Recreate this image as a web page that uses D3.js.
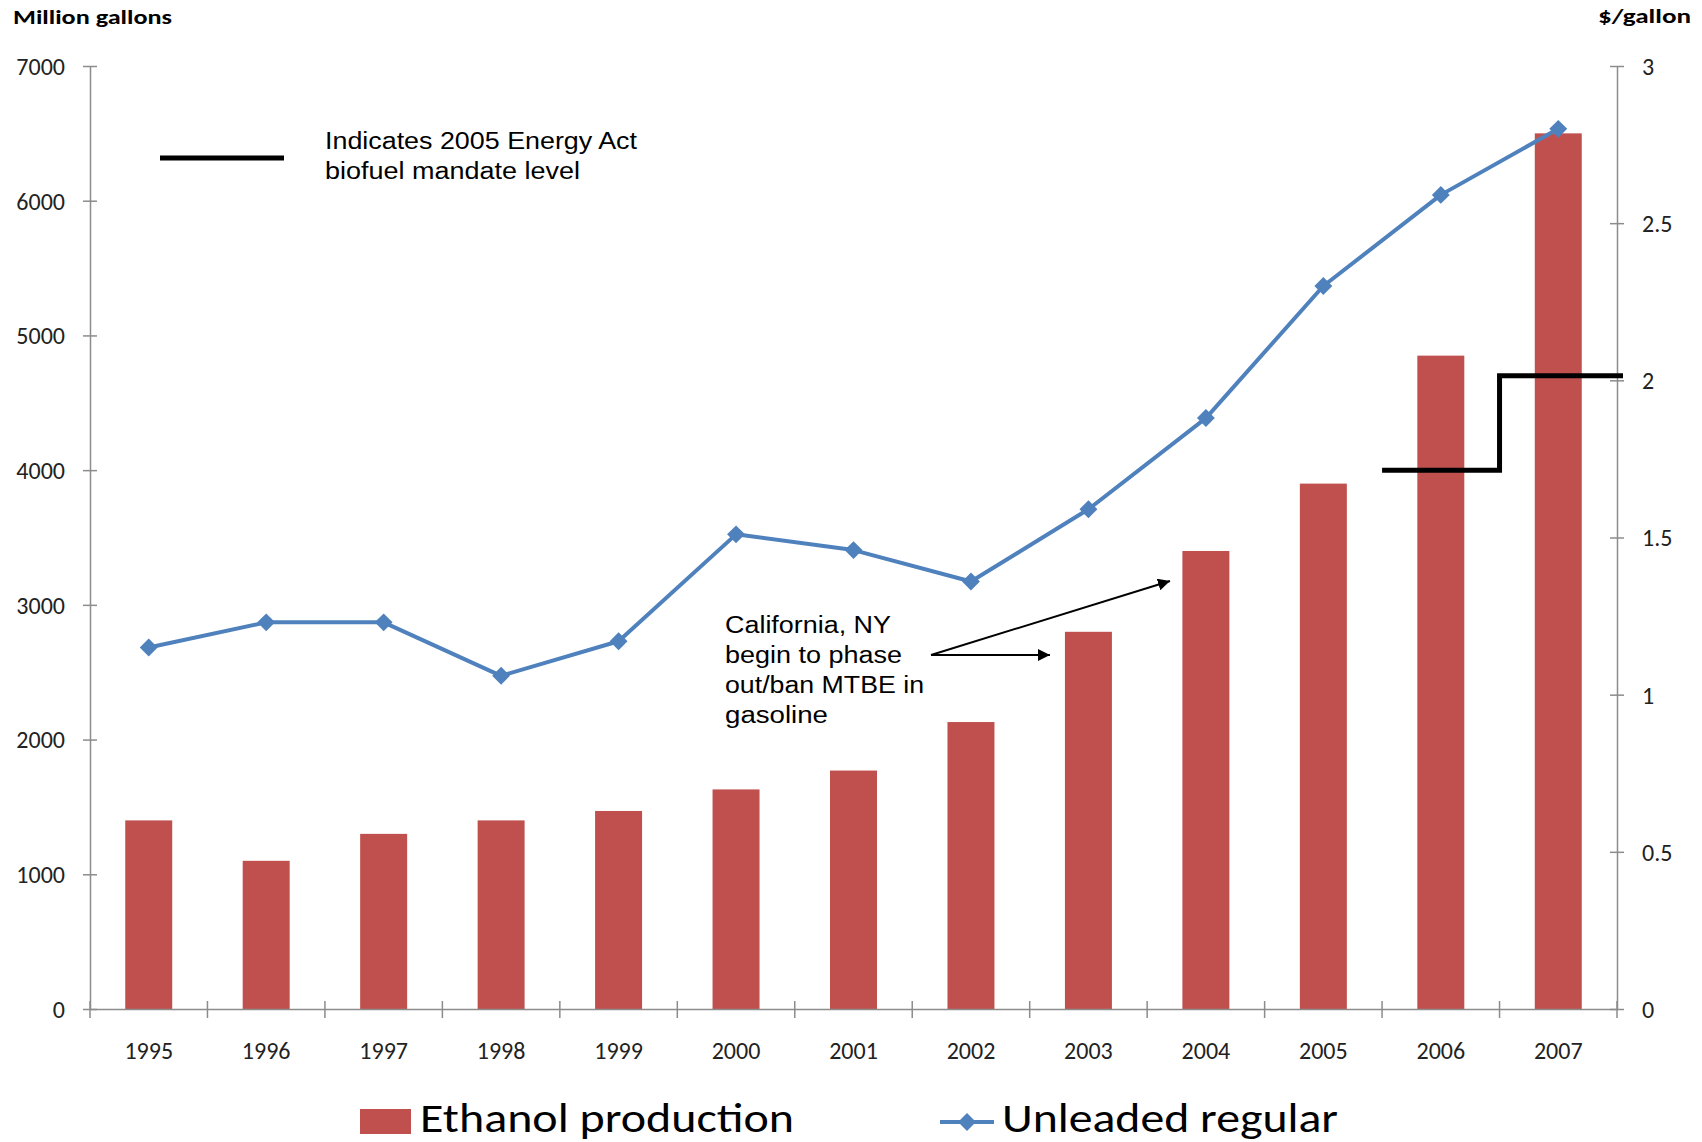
<!DOCTYPE html>
<html>
<head>
<meta charset="utf-8">
<script src="https://cdn.jsdelivr.net/npm/d3@7"></script>
<style>
  body { margin: 0; background: #fff; }
  svg { display: block; }
  .tick-label { font-family: Carlito, "Open Sans", sans-serif; font-size: 24px; fill: #222; }
  .axis-title { font-family: Carlito, "Open Sans", sans-serif; font-size: 21px; font-weight: bold; fill: #000; }
  .note { font-family: "Liberation Sans", Arial, sans-serif; font-size: 23px; fill: #000; }
  .legend { font-family: Carlito, "Open Sans", sans-serif; font-size: 42px; fill: #000; }
</style>
</head>
<body>
<svg id="chart" width="1702" height="1142"></svg>
<script>
// data
const years = ["1995","1996","1997","1998","1999","2000","2001","2002","2003","2004","2005","2006","2007"];
const ethanol = [1400, 1100, 1300, 1400, 1470, 1630, 1770, 2130, 2800, 3400, 3900, 4850, 6500];
const unleaded = [1.15, 1.23, 1.23, 1.06, 1.17, 1.51, 1.46, 1.36, 1.59, 1.88, 2.30, 2.59, 2.80];
const mandateYears = ["2006", "2007"];
const mandate = [4000, 4700];
const leftTicks = [0, 1000, 2000, 3000, 4000, 5000, 6000, 7000];
const rightTicks = [0, 0.5, 1, 1.5, 2, 2.5, 3];

const pLeft = 90, pRight = 1617, pTop = 66, pBottom = 1009;
const barColor = "#C0504D", lineColor = "#4F81BD", axisColor = "#8c8c8c";

const svg = d3.select("#chart");

const x = d3.scaleBand().domain(years).range([pLeft, pRight]).padding(0);
const yL = d3.scaleLinear().domain([0, 7000]).range([pBottom, pTop]);
const yR = d3.scaleLinear().domain([0, 3]).range([pBottom, pTop]);
const barW = x.bandwidth() * 0.4;

// bars
svg.append("g").selectAll("rect")
  .data(years)
  .join("rect")
  .attr("x", (d, i) => x(d) + (x.bandwidth() - barW) / 2)
  .attr("y", (d, i) => yL(ethanol[i]))
  .attr("width", barW)
  .attr("height", (d, i) => pBottom - yL(ethanol[i]))
  .attr("fill", barColor);

// left axis
const axL = d3.axisLeft(yL).tickValues(leftTicks).tickFormat(d3.format("d")).tickSizeInner(7).tickSizeOuter(0);
const gL = svg.append("g").attr("transform", `translate(${pLeft},0)`).call(axL);
gL.selectAll(".tick line").attr("x2", 7).attr("x1", -7);
gL.selectAll(".tick text").attr("class", "tick-label").attr("dy", "0.35em").attr("x", -25);

// right axis
const axR = d3.axisRight(yR).tickValues(rightTicks).tickFormat(d3.format("")).tickSizeInner(7).tickSizeOuter(0);
const gR = svg.append("g").attr("transform", `translate(${pRight},0)`).call(axR);
gR.selectAll(".tick line").attr("x1", -7).attr("x2", 7);
gR.selectAll(".tick text").attr("class", "tick-label").attr("dy", "0.35em").attr("x", 25);

// x axis
const axX = d3.axisBottom(x).tickSize(0).tickPadding(42);
const gX = svg.append("g").attr("transform", `translate(0,${pBottom})`).call(axX);
gX.selectAll(".tick text").attr("class", "tick-label").attr("dy", "0.35em");
gX.selectAll(".boundary")
  .data(years.concat(["end"]))
  .join("line")
  .attr("x1", (d, i) => pLeft + i * x.step())
  .attr("x2", (d, i) => pLeft + i * x.step())
  .attr("y1", -8).attr("y2", 9);

[gL, gR, gX].forEach(g => {
  g.select(".domain").attr("stroke", axisColor).attr("stroke-width", 1.5);
  g.selectAll("line").attr("stroke", axisColor).attr("stroke-width", 1.5);
});

// mandate step line
const m0 = x(mandateYears[0]), m1 = x(mandateYears[1]);
svg.append("path")
  .attr("d", `M${m0},${yL(mandate[0])}H${m1}V${yL(mandate[1])}H${pRight + 6}`)
  .attr("fill", "none")
  .attr("stroke", "#000")
  .attr("stroke-width", 5);

// price line
const line = d3.line()
  .x((d, i) => x(years[i]) + x.bandwidth() / 2)
  .y(d => yR(d));
svg.append("path")
  .datum(unleaded)
  .attr("d", line)
  .attr("fill", "none")
  .attr("stroke", lineColor)
  .attr("stroke-width", 4)
  .attr("stroke-linejoin", "round");

const diamond = d3.symbol().type(d3.symbolSquare).size(160);
svg.append("g").selectAll("path")
  .data(unleaded)
  .join("path")
  .attr("transform", (d, i) => `translate(${x(years[i]) + x.bandwidth() / 2},${yR(d)}) rotate(45)`)
  .attr("d", diamond)
  .attr("fill", lineColor);

// axis titles
svg.append("text").attr("class", "axis-title").attr("x", 13).attr("y", 24)
  .attr("textLength", 159).attr("lengthAdjust", "spacingAndGlyphs").text("Million gallons");
svg.append("text").attr("class", "axis-title").attr("x", 1598).attr("y", 23)
  .attr("textLength", 93).attr("lengthAdjust", "spacingAndGlyphs").text("$/gallon");

// mandate key
svg.append("line").attr("x1", 160).attr("x2", 284).attr("y1", 158).attr("y2", 158)
  .attr("stroke", "#000").attr("stroke-width", 5);
svg.append("text").attr("class", "note").attr("x", 325).attr("y", 149)
  .attr("textLength", 312).attr("lengthAdjust", "spacingAndGlyphs").text("Indicates 2005 Energy Act");
svg.append("text").attr("class", "note").attr("x", 325).attr("y", 179)
  .attr("textLength", 255).attr("lengthAdjust", "spacingAndGlyphs").text("biofuel mandate level");

// MTBE annotation
const noteLines = ["California, NY", "begin to phase", "out/ban MTBE in", "gasoline"];
const noteWidths = [166, 177, 199, 103];
svg.append("g").selectAll("text")
  .data(noteLines)
  .join("text")
  .attr("class", "note")
  .attr("x", 725)
  .attr("y", (d, i) => 633 + i * 30)
  .attr("textLength", (d, i) => noteWidths[i])
  .attr("lengthAdjust", "spacingAndGlyphs")
  .text(d => d);

svg.append("defs").append("marker")
  .attr("id", "arrow")
  .attr("viewBox", "0 0 10 10")
  .attr("refX", 10).attr("refY", 5)
  .attr("markerWidth", 6).attr("markerHeight", 6)
  .attr("markerUnits", "strokeWidth")
  .attr("orient", "auto")
  .append("path").attr("d", "M0,0L10,5L0,10z").attr("fill", "#000");

[[1050, 655], [1170, 581]].forEach(t => {
  svg.append("line")
    .attr("x1", 931).attr("y1", 655).attr("x2", t[0]).attr("y2", t[1])
    .attr("stroke", "#000").attr("stroke-width", 2)
    .attr("marker-end", "url(#arrow)");
});

// legend
svg.append("rect").attr("x", 360).attr("y", 1109).attr("width", 51).attr("height", 25).attr("fill", barColor);
svg.append("text").attr("class", "legend").attr("x", 420).attr("y", 1132)
  .attr("textLength", 374).attr("lengthAdjust", "spacingAndGlyphs").text("Ethanol production");
svg.append("line").attr("x1", 940).attr("x2", 994).attr("y1", 1122).attr("y2", 1122)
  .attr("stroke", lineColor).attr("stroke-width", 4);
svg.append("path").attr("transform", "translate(967,1122) rotate(45)").attr("d", diamond).attr("fill", lineColor);
svg.append("text").attr("class", "legend").attr("x", 1002).attr("y", 1132)
  .attr("textLength", 336).attr("lengthAdjust", "spacingAndGlyphs").text("Unleaded regular");
</script>
</body>
</html>
